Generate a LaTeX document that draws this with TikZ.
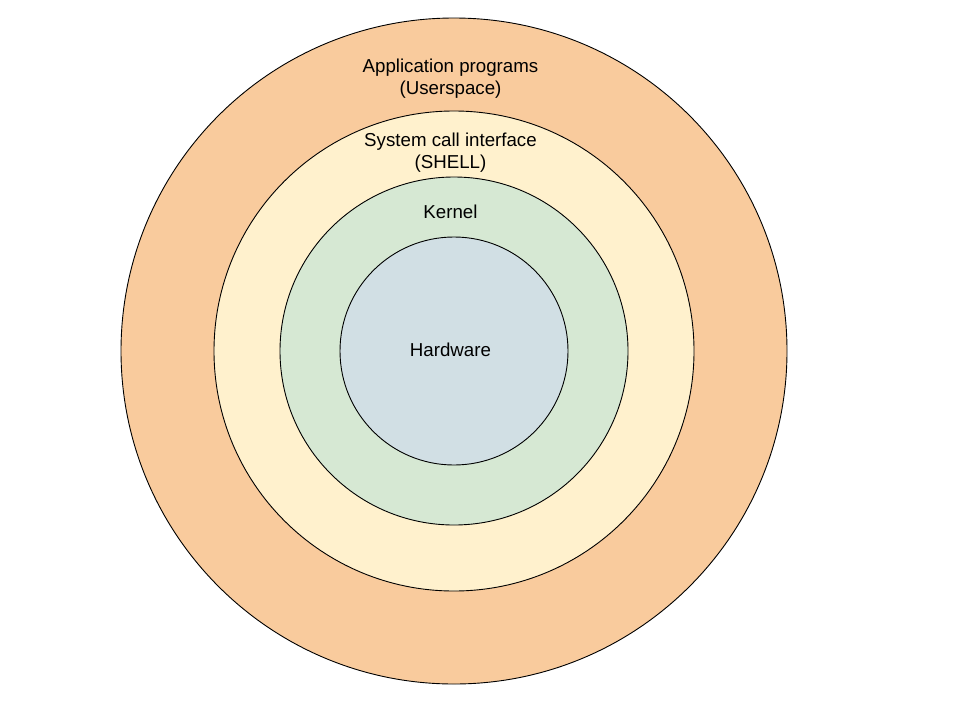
\documentclass[tikz,border=0pt]{standalone}
\usepackage{fontspec}
\setmainfont{Liberation Sans}
\definecolor{corange}{HTML}{F9CB9D}
\definecolor{cyellow}{HTML}{FFF1CD}
\definecolor{cgreen}{HTML}{D6E8D3}
\definecolor{cblue}{HTML}{D1DFE4}
\tikzset{
  ring/.style={circle, draw=black, line width=0.9pt, inner sep=0pt},
  lbl/.style={align=center, font=\fontsize{18.7}{22}\selectfont, inner sep=0pt}
}
\begin{document}
\begin{tikzpicture}[x=1pt,y=-1pt]
\useasboundingbox (0,0) rectangle (960,720);
\node[ring, fill=corange, minimum size=666pt] (app) at (454,351) {};
\node[ring, fill=cyellow, minimum size=480pt] (sys) at (454,351) {};
\node[ring, fill=cgreen, minimum size=348pt] (ker) at (454,351) {};
\node[ring, fill=cblue, minimum size=228pt] (hw) at (454,351) {};
\node[lbl] (tapp) at (450.5,79) {Application programs\\(Userspace)};
\node[lbl] (tsys) at (450.5,153) {System call interface\\(SHELL)};
\node[lbl] (tker) at (450.5,212) {Kernel};
\node[lbl] (thw) at (450.5,350) {Hardware};
\end{tikzpicture}
\end{document}
